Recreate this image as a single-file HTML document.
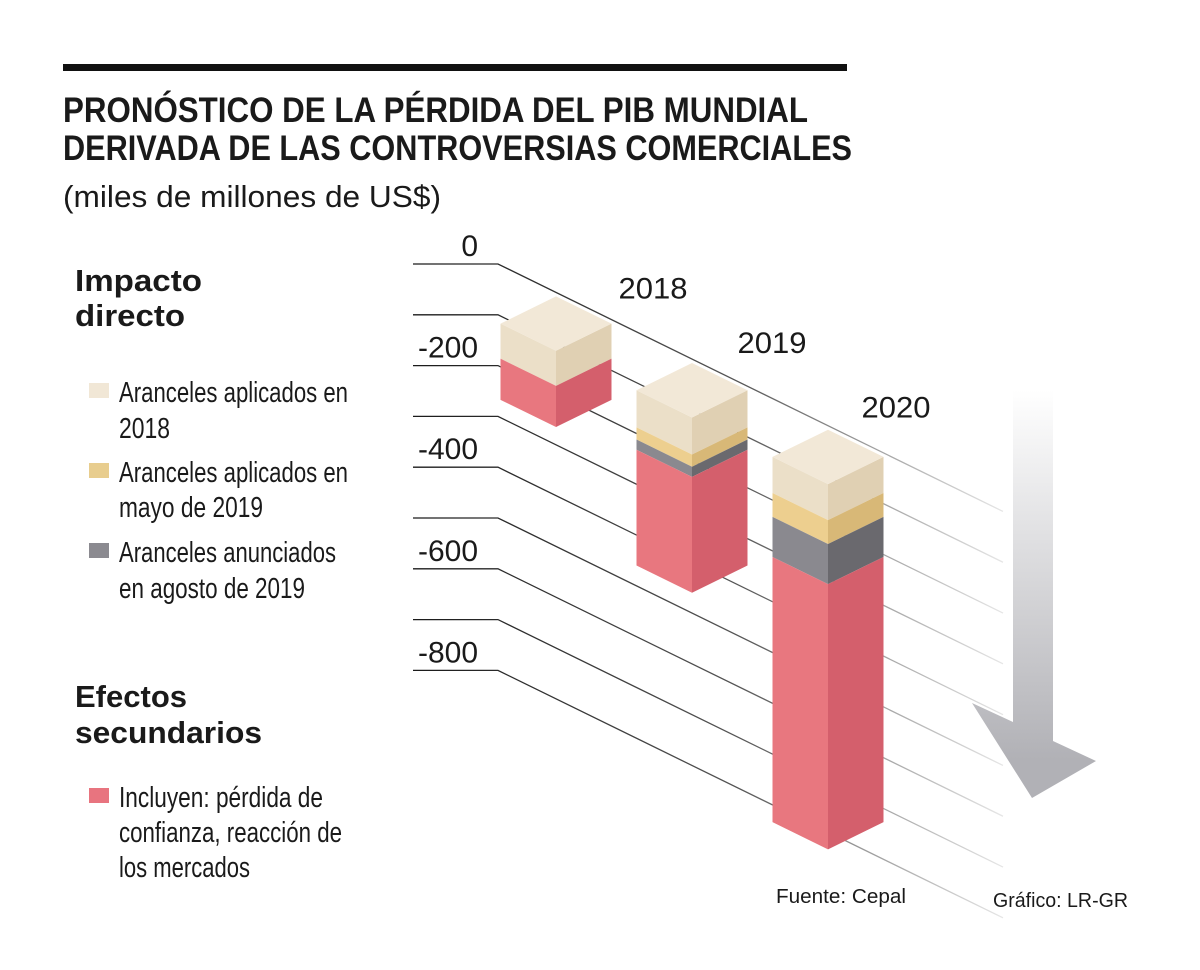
<!DOCTYPE html>
<html><head><meta charset="utf-8"><style>
html,body{margin:0;padding:0;background:#fff;width:1200px;height:970px;overflow:hidden}
svg text{font-family:"Liberation Sans",sans-serif;fill:#1a1a1a}
.t{font-weight:bold;font-size:35px}
.l{font-size:29px}
.h{font-weight:bold;font-size:31px}
.ax{font-size:30px}
.f{font-size:20px}
</style></head><body>
<svg id="chart" width="1200" height="970" viewBox="0 0 1200 970" xmlns="http://www.w3.org/2000/svg">
<defs>
<linearGradient id="gridGrad" gradientUnits="userSpaceOnUse" x1="413" y1="0" x2="1003" y2="0">
<stop offset="0" stop-color="#1a1a1a"/><stop offset="0.55" stop-color="#555"/><stop offset="1" stop-color="#e6e6e6"/></linearGradient>
<linearGradient id="arrowGrad" gradientUnits="userSpaceOnUse" x1="0" y1="390" x2="0" y2="760">
<stop offset="0" stop-color="#ffffff"/><stop offset="1" stop-color="#b1b1b6"/></linearGradient>
</defs>
<rect x="63" y="64" width="784" height="7" fill="#111"/>
<text class="t" x="63" y="122" textLength="745" lengthAdjust="spacingAndGlyphs">PRONÓSTICO DE LA PÉRDIDA DEL PIB MUNDIAL</text>
<text class="t" x="63" y="160" textLength="789" lengthAdjust="spacingAndGlyphs">DERIVADA DE LAS CONTROVERSIAS COMERCIALES</text>
<text class="l" x="63" y="207" textLength="378" lengthAdjust="spacingAndGlyphs" style="font-size:31px">(miles de millones de US$)</text>

<g>
<text class="h" x="75" y="291" textLength="127" lengthAdjust="spacingAndGlyphs">Impacto</text>
<text class="h" x="75" y="326" textLength="110" lengthAdjust="spacingAndGlyphs">directo</text>
<rect x="89" y="383" width="20" height="15" fill="#f1e7d6"/>
<text class="l" x="119" y="402" textLength="229" lengthAdjust="spacingAndGlyphs">Aranceles aplicados en</text>
<text class="l" x="119" y="438" textLength="51" lengthAdjust="spacingAndGlyphs">2018</text>
<rect x="89" y="463" width="20" height="15" fill="#e8cd8e"/>
<text class="l" x="119" y="482" textLength="229" lengthAdjust="spacingAndGlyphs">Aranceles aplicados en</text>
<text class="l" x="119" y="517" textLength="144" lengthAdjust="spacingAndGlyphs">mayo de 2019</text>
<rect x="89" y="543" width="20" height="15" fill="#8b8a90"/>
<text class="l" x="119" y="562" textLength="217" lengthAdjust="spacingAndGlyphs">Aranceles anunciados</text>
<text class="l" x="119" y="598" textLength="186" lengthAdjust="spacingAndGlyphs">en agosto de 2019</text>
<text class="h" x="75" y="707" textLength="112" lengthAdjust="spacingAndGlyphs">Efectos</text>
<text class="h" x="75" y="743" textLength="187" lengthAdjust="spacingAndGlyphs">secundarios</text>
<rect x="89" y="788" width="20" height="15" fill="#e8747f"/>
<text class="l" x="119" y="807" textLength="204" lengthAdjust="spacingAndGlyphs">Incluyen: pérdida de</text>
<text class="l" x="119" y="842" textLength="223" lengthAdjust="spacingAndGlyphs">confianza, reacción de</text>
<text class="l" x="119" y="877" textLength="131" lengthAdjust="spacingAndGlyphs">los mercados</text>
</g>

<g id="grid"></g>
<g id="ticks"></g>
<polygon points="1013,390 1053,390 1053,741 1096,761 1032,798 972,703 1013,722" fill="url(#arrowGrad)"/>
<g id="bars"></g>
<g id="years"></g>

<text class="f" x="776" y="903" textLength="130" lengthAdjust="spacingAndGlyphs">Fuente: Cepal</text>
<text class="f" x="993" y="907" textLength="135" lengthAdjust="spacingAndGlyphs">Gráfico: LR-GR</text>
</svg>
<script>
const years = ["2018", "2019", "2020"];
const tariffs2018 = [69, 73, 71];
const tariffsMay2019 = [0, 24, 47];
const tariffsAug2019 = [0, 20, 79];
const secondaryEffects = [81, 228, 522];
const gridValues = [0, -100, -200, -300, -400, -500, -600, -700, -800];
const tickLabels = ["0", "-200", "-400", "-600", "-800"];
const tickLabelValues = [0, -200, -400, -600, -800];

const NS = "http://www.w3.org/2000/svg";
const PX = 0.508;
const Y0 = 264;
const BEND = 498;
const SLOPE = 0.49;
const LABEL_DX = [97, 80, 68];
const LABEL_DY = [2, -10, -12];
function yScale(v){ return Y0 - v * PX; }
function xBar(i){ return 556 + i * 136; }
function mk(tag, attrs, parent){ const e = document.createElementNS(NS, tag); for (const k in attrs) e.setAttribute(k, attrs[k]); parent.appendChild(e); return e; }

const grid = document.getElementById('grid');
gridValues.forEach(function(v){
  const y = yScale(v);
  const pl = mk('polyline', {points: `413,${y} ${BEND},${y} 1003,${y + (1003 - BEND) * SLOPE}`, fill: 'none', stroke: 'url(#gridGrad)', 'stroke-width': 1.3}, grid);
  
  
});
const ticks = document.getElementById('ticks');
tickLabels.forEach(function(t, i){
  const tx = mk('text', {x: 478, y: yScale(tickLabelValues[i]) - 8, 'text-anchor': 'end', class: 'ax'}, ticks);
  tx.textContent = t;
  
  
});

const series = [tariffs2018, tariffsMay2019, tariffsAug2019, secondaryEffects];
const leftCol = ["#ebdfc8", "#edcf8f", "#8a898f", "#e8777f"];
const rightCol = ["#e0d0b3", "#d8b877", "#6a696e", "#d45f6c"];
const segNames = ["tariffs-2018", "tariffs-may-2019", "tariffs-aug-2019", "secondary-effects"];
const bars = document.getElementById('bars');
const yearsG = document.getElementById('years');
const W = 55.5, DY = W * SLOPE;
years.forEach(function(yr, i){
  const cx = xBar(i);
  const yTop = Y0 + (cx - BEND) * SLOPE + 4;
  const g = mk('g', {}, bars);
  
  
  let cum = 0;
  series.forEach(function(s, k){
    const v = s[i];
    if (v <= 0) return;
    const h0 = cum * PX, h1 = (cum + v) * PX;
    cum += v;
    const a = mk('polygon', {points: `${cx-W},${yTop+DY+h0} ${cx},${yTop+2*DY+h0} ${cx},${yTop+2*DY+h1} ${cx-W},${yTop+DY+h1}`, fill: leftCol[k]}, g);
    
    
    const b = mk('polygon', {points: `${cx},${yTop+2*DY+h0} ${cx+W},${yTop+DY+h0} ${cx+W},${yTop+DY+h1} ${cx},${yTop+2*DY+h1}`, fill: rightCol[k]}, g);
    
    
  });
  const top = mk('polygon', {points: `${cx},${yTop} ${cx+W},${yTop+DY} ${cx},${yTop+2*DY} ${cx-W},${yTop+DY}`, fill: '#f2e8d7'}, g);
  
  
  const lbl = mk('text', {x: cx + LABEL_DX[i], y: yTop + LABEL_DY[i], 'text-anchor': 'middle', class: 'ax', textLength: 69, lengthAdjust: 'spacingAndGlyphs'}, yearsG);
  lbl.textContent = yr;
  
  
});
</script>
</body></html>
